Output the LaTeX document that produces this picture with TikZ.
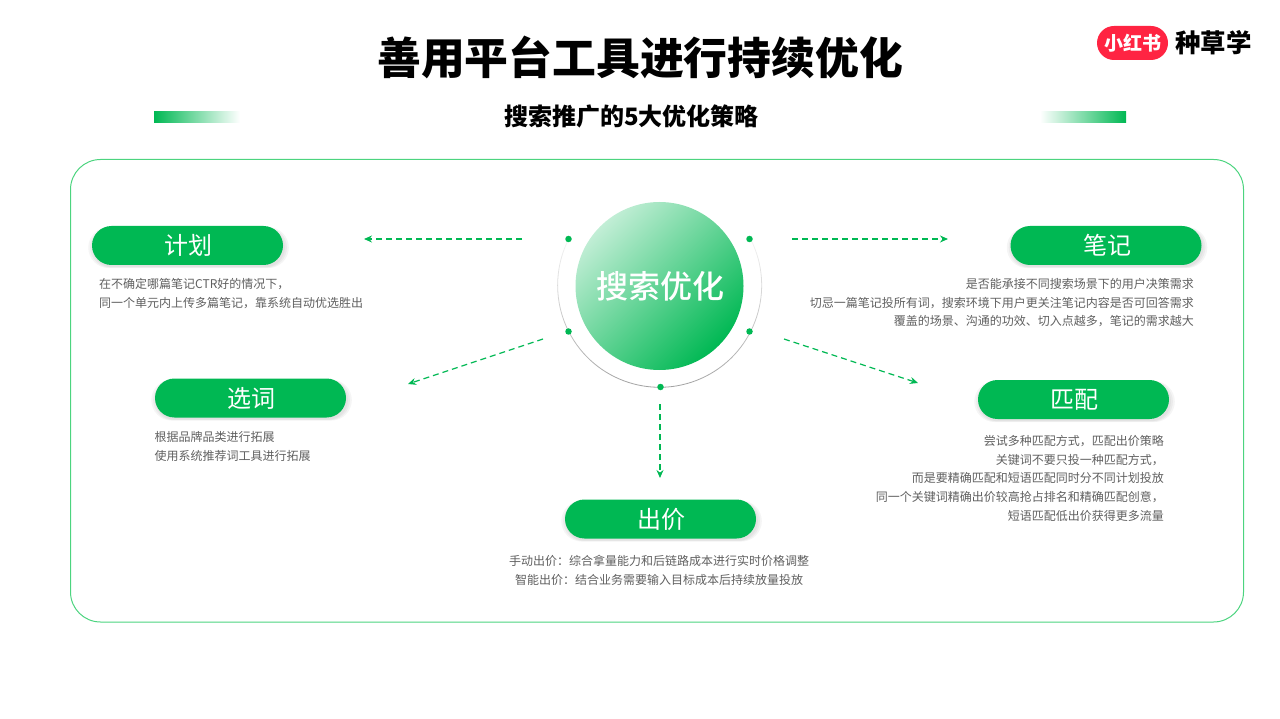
\documentclass[tikz,border=0pt]{standalone}
\usepackage{fontspec}
\setmainfont{Noto Sans CJK SC}
\newfontfamily\medfont{Noto Sans CJK SC Medium}
\usetikzlibrary{shadows,fadings,arrows.meta}
\definecolor{leaf}{HTML}{00B853}
\definecolor{leafline}{HTML}{4CD47F}
\definecolor{note}{HTML}{5F5F5F}
\definecolor{logored}{HTML}{FF2442}
\tikzfading[name=ringfade,top color=transparent!90,bottom color=transparent!0]
\tikzset{
  softblur/.style={general shadow={shadow xshift=1pt,shadow yshift=-2pt,shadow scale=#1,fill=black,opacity=.04}},
  pill/.style={rounded corners=19.5pt,fill=leaf,text=white,minimum width=191pt,minimum height=39pt,
    inner sep=0pt,font=\fontsize{24}{28}\selectfont,execute at begin node=\hspace{2pt},
    softblur=1.05,softblur=1.03,softblur=1.01},
  notes/.style={inner sep=0pt,text=note,font=\fontsize{12}{18.7}\selectfont},
  link/.style={leaf,line width=1.2pt,dash pattern=on 6pt off 4pt,-{Stealth[length=8pt,width=7pt]}},
  spot/.style={circle,fill=leaf,inner sep=0pt,minimum size=6.5pt},
  fadebar/.style={left color=leaf,right color=white,draw=none}
}
\begin{document}
\begin{tikzpicture}[x=1pt,y=-1pt]
  \useasboundingbox (0,0) rectangle (1280,719);
  % heading
  \node[font=\fontsize{43.8}{48}\selectfont\bfseries] (title) at (640,57) {善用平台工具进行持续优化};
  \node[font=\fontsize{24}{28}\selectfont\bfseries] (sub) at (631.5,116) {搜索推广的5大优化策略};
  \shade[fadebar] (154,112) rectangle (240,123);
  \shade[fadebar,left color=white,right color=leaf] (1040,112) rectangle (1126,123);
  % logo
  \node[fill=logored,text=white,rounded corners=17pt,minimum width=71pt,minimum height=34pt,inner sep=0pt,
    font=\fontsize{19}{22}\selectfont\bfseries] (logo) at (1132.5,43) {小红书};
  \node[font=\fontsize{25.5}{28}\selectfont\bfseries] (brand) at (1213.5,43) {种草学};
  % frame
  \draw[leafline,line width=1pt,rounded corners=30pt] (70.5,159.5) rectangle (1243.5,622);
  % centre
  \draw[gray!80,line width=.8pt,path fading=ringfade] (750.5,239) arc (27:-207:102 and -102);
  \node[circle,minimum size=168pt,inner sep=0pt,left color=leaf!24,right color=leaf,shading angle=45,
    text=white,font=\fontsize{32}{36}\selectfont\medfont,execute at begin node=\hspace{2pt}] (hub) at (659.5,286) {搜索优化};
  \node[spot] (s1) at (568.5,239) {};
  \node[spot] (s2) at (749.5,239) {};
  \node[spot] (s3) at (568.5,331.5) {};
  \node[spot] (s4) at (749.5,331.5) {};
  \node[spot] (s5) at (660.5,387) {};
  % pills
  \node[pill] (plan) at (187.5,245.5) {计划};
  \node[pill] (word) at (250.5,398) {选词};
  \node[pill] (bid) at (660.5,519) {出价};
  \node[pill] (memo) at (1106,245.5) {笔记};
  \node[pill] (match) at (1073.5,399.5) {匹配};
  % notes
  \node[notes,align=left,anchor=north west] (plantext) at (99,278) {在不确定哪篇笔记CTR好的情况下，\\同一个单元内上传多篇笔记，靠系统自动优选胜出};
  \node[notes,align=left,anchor=north west] (wordtext) at (154.5,431) {根据品牌品类进行拓展\\使用系统推荐词工具进行拓展};
  \node[notes,align=center,anchor=north] (bidtext) at (659,555) {手动出价：综合拿量能力和后链路成本进行实时价格调整\\智能出价：结合业务需要输入目标成本后持续放量投放};
  \node[notes,align=right,anchor=north east] (memotext) at (1194,278) {是否能承接不同搜索场景下的用户决策需求\\切忌一篇笔记投所有词，搜索环境下用户更关注笔记内容是否可回答需求\\覆盖的场景、沟通的功效、切入点越多，笔记的需求越大};
  \node[notes,align=right,anchor=north east] (matchtext) at (1164,435) {尝试多种匹配方式，匹配出价策略\\关键词不要只投一种匹配方式，\\而是要精确匹配和短语匹配同时分不同计划投放\\同一个关键词精确出价较高抢占排名和精确匹配创意，\\短语匹配低出价获得更多流量};
  % links
  \coordinate (a1) at (522,239);
  \coordinate (b1) at (364,239);
  \coordinate (a2) at (792,239);
  \coordinate (b2) at (948,239);
  \coordinate (a3) at (543,339);
  \coordinate (b3) at (408,384);
  \coordinate (a4) at (784,339);
  \coordinate (b4) at (918,383);
  \coordinate (a5) at (660,404);
  \coordinate (b5) at (660,478);
  \foreach \i in {1,...,5}
    \draw[link] (a\i) -- (b\i);
\end{tikzpicture}
\end{document}
